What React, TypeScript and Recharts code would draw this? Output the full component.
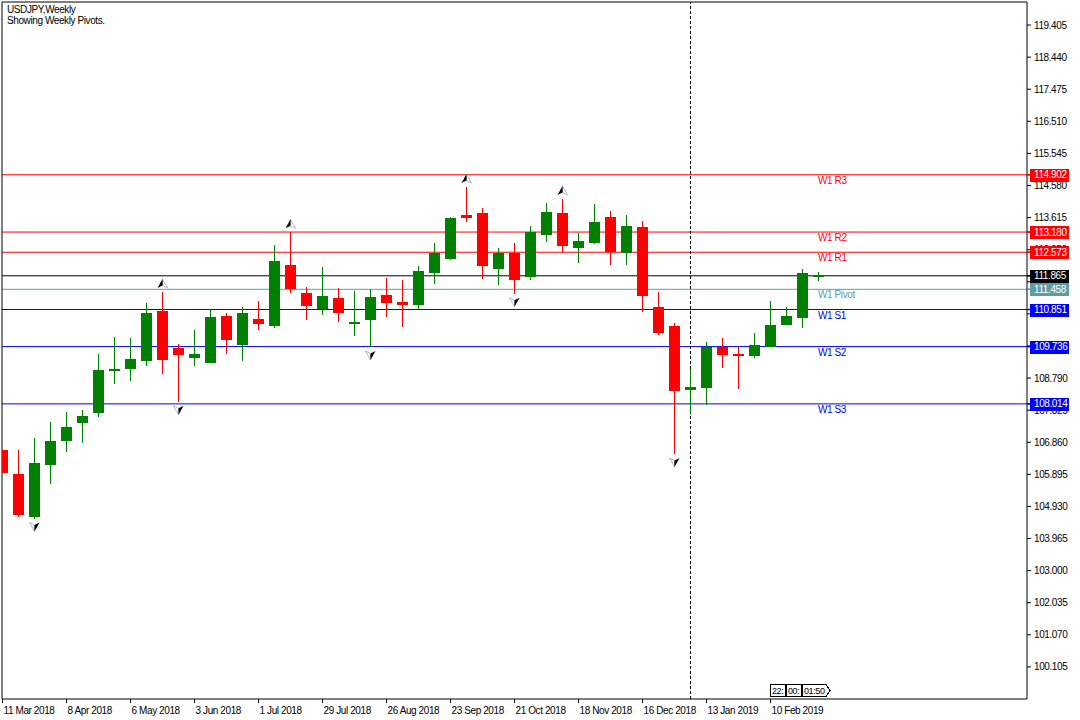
import React from "react";
import { ComposedChart, Bar, Scatter, XAxis, YAxis, ReferenceLine } from "recharts";

// USDJPY weekly candles, week of 11 Mar 2018 .. week of 3 Mar 2019
const opens = [
  106.627, 105.905, 104.622, 106.185, 106.907, 107.448, 107.748, 109.011, 109.071, 109.312,
  110.815, 109.703, 109.402, 109.252, 110.656, 109.793, 110.566, 110.364, 112.189, 111.347,
  110.875, 111.197, 110.406, 110.545, 111.287, 111.077, 110.987, 111.949, 112.37, 113.692,
  113.753, 112.069, 112.541, 111.828, 113.1, 113.753, 112.7, 112.851, 113.632, 112.541,
  113.332, 110.926, 110.355, 108.44, 108.5, 109.715, 109.522, 109.462, 109.733, 110.394,
  110.605, 111.84,
];
const highs = [
  106.657, 106.627, 106.988, 107.469, 107.769, 107.83, 109.513, 110.033, 109.994, 111.056,
  111.377, 109.805, 110.235, 110.857, 110.746, 110.926, 111.107, 112.79, 113.172, 111.528,
  112.129, 111.498, 111.416, 111.468, 111.798, 111.738, 112.159, 112.851, 113.641, 114.534,
  113.903, 112.7, 112.851, 113.362, 114.053, 114.174, 113.16, 114.023, 113.813, 113.692,
  113.512, 111.377, 110.445, 109.071, 109.874, 110.003, 109.733, 110.154, 111.116, 110.935,
  112.069, 111.979,
];
const lows = [
  105.935, 104.603, 104.567, 105.614, 106.576, 106.846, 107.628, 108.611, 108.71, 109.152,
  108.921, 108.079, 109.152, 109.228, 109.522, 109.312, 110.244, 110.304, 111.356, 110.545,
  110.695, 110.484, 110.064, 109.724, 110.635, 110.334, 110.836, 111.618, 112.339, 113.491,
  111.777, 111.588, 111.326, 111.747, 112.89, 112.589, 112.258, 112.829, 112.198, 112.198,
  110.785, 110.094, 106.507, 107.73, 107.971, 109.101, 108.47, 109.402, 109.709, 110.385,
  110.304, 111.717,
];
const closes = [
  105.944, 104.682, 106.245, 106.898, 107.318, 107.649, 109.032, 109.071, 109.363, 110.746,
  109.342, 109.492, 109.513, 110.626, 109.943, 110.746, 110.424, 112.309, 111.453, 110.965,
  111.257, 110.755, 110.475, 111.227, 111.056, 110.996, 112.009, 112.541, 113.602, 113.611,
  112.159, 112.541, 111.738, 113.172, 113.783, 112.76, 112.92, 113.482, 112.58, 113.362,
  111.257, 110.154, 108.41, 108.512, 109.715, 109.492, 109.462, 109.784, 110.385, 110.656,
  111.949, 111.865,
];

const timeTickBars = [0, 4, 8, 12, 16, 20, 24, 28, 32, 36, 40, 44, 48];
const timeTickLabels = [
  "11 Mar 2018", "8 Apr 2018", "6 May 2018", "3 Jun 2018", "1 Jul 2018", "29 Jul 2018",
  "26 Aug 2018", "23 Sep 2018", "21 Oct 2018", "18 Nov 2018", "16 Dec 2018", "13 Jan 2019",
  "10 Feb 2019",
];
const priceTicks = [
  100.105, 101.07, 102.035, 103.0, 103.965, 104.93, 105.895, 106.86, 107.825, 108.79,
  109.755, 110.72, 111.685, 112.65, 113.615, 114.58, 115.545, 116.51, 117.475, 118.44, 119.405,
];

const pivotNames = ["W1 R3", "W1 R2", "W1 R1", "W1 Pivot", "W1 S1", "W1 S2", "W1 S3"];
const pivotValues = [114.902, 113.18, 112.573, 111.458, 110.851, 109.736, 108.014];
const bidPrice = 111.865;
const upFractalBars = [10, 18, 29, 35];
const downFractalBars = [2, 11, 23, 32, 42];
const yearSeparatorBar = 43;
const countdownParts = ["22:", "00:", "01:50"];

const X_DOMAIN: [number, number] = [-0.03125, 64.03125];
const Y_DOMAIN: [number, number] = [99.14, 120.097];

const GREEN = "#008000";
const RED = "#ff0000";
const FONT = '"Liberation Sans", Arial, sans-serif';
const TXT = { fontFamily: FONT, fontSize: 10, letterSpacing: -0.4 };

function levelColor(name: string) {
  if (name.includes("Pivot")) return "#5f9ea0";
  if (name.includes("R")) return "#ff0000";
  if (name.includes("S")) return "#0000ff";
  return "#000000";
}

// price -> level name for the coloured tags on the price scale
function tagName(v: number) {
  if (Math.abs(v - bidPrice) < 1e-9) return "bid";
  const i = pivotValues.findIndex((p) => Math.abs(p - v) < 1e-9);
  return i >= 0 ? pivotNames[i] : null;
}

function Candle(props: any) {
  const { x, y, width, height, payload } = props;
  if (payload == null || x == null || y == null) return null;
  const { open, close, high, low } = payload;
  const top = Math.min(y, y + height);
  const span = Math.abs(height);
  const ppu = high > low ? span / (high - low) : 0;
  const py = (v: number) => top + (high - v) * ppu;
  const cx = Math.floor(x + width / 2) + 0.5;
  const color = close >= open ? GREEN : RED;
  const bTop = Math.round(py(Math.max(open, close)));
  const bBot = Math.max(bTop + 1, Math.round(py(Math.min(open, close))));
  // first bar is cut by the chart frame
  const left = Math.max(cx - 5.5, 2.5);
  return (
    <g>
      <line x1={cx} x2={cx} y1={Math.round(top)} y2={Math.round(top + span)} stroke={color} strokeWidth={1} />
      <rect x={left} y={bTop} width={cx + 5.5 - left} height={bBot - bTop} fill={color} />
    </g>
  );
}

function Fractal(props: any) {
  const { cx, cy, payload } = props;
  if (cx == null || cy == null) return null;
  const up = payload.dir === "up";
  const s = up ? 1 : -1;
  const c = cy - 8.5 * s;
  const tip = c - 4.5 * s;
  const foot = c + 4.5 * s;
  const notch = c + 2 * s;
  const left = `M${cx},${tip} L${cx - 5},${foot} L${cx},${notch} Z`;
  const right = `M${cx},${tip} L${cx + 5},${foot} L${cx},${notch} Z`;
  return (
    <g>
      <path d={up ? right : left} fill="#fff" stroke="#9aa6b8" strokeWidth={0.8} />
      <path d={up ? left : right} fill="#000" />
    </g>
  );
}

function TimeTick(props: any) {
  const { x, y, payload } = props;
  const i = timeTickBars.indexOf(payload.value);
  return (
    <text x={x + 1} y={y + 8.5} fill="#000" {...TXT}>
      {timeTickLabels[i]}
    </text>
  );
}

function PriceTick(props: any) {
  const { x, y, payload } = props;
  const v = Number(payload.value);
  const name = tagName(v);
  if (name) {
    const color = levelColor(name);
    const top = Math.round(y) - 6;
    return (
      <g>
        <line x1={x - 7} x2={x - 3} y1={y} y2={y} stroke={color} strokeWidth={1.5} />
        <rect x={x - 4} y={top} width={39} height={13} fill={color} />
        <text x={x} y={y} dy="0.35em" fill="#fff" {...TXT}>
          {v.toFixed(3)}
        </text>
      </g>
    );
  }
  return (
    <text x={x} y={y} dy="0.35em" fill="#000" {...TXT}>
      {v.toFixed(3)}
    </text>
  );
}

function LevelNote(props: any) {
  const { cx, cy, payload } = props;
  if (cx == null || cy == null) return null;
  return (
    <text x={cx - 0.5} y={cy + 9} fill={levelColor(payload.name)} {...TXT}>
      {payload.name}
    </text>
  );
}

export default function App() {
  const candles = opens.map((open, k) => ({
    k,
    open,
    high: highs[k],
    low: lows[k],
    close: closes[k],
    range: [lows[k], highs[k]],
  }));
  const fractals = [
    ...upFractalBars.map((k) => ({ k, price: highs[k], dir: "up" })),
    ...downFractalBars.map((k) => ({ k, price: lows[k], dir: "down" })),
  ];
  const lastBar = opens.length - 1;
  const levelNotes = pivotNames.map((name, i) => ({ k: lastBar, price: pivotValues[i], name }));
  // plain ticks first, tags last so the tags cover the labels beneath them
  const axisTicks = [...priceTicks, ...pivotValues, bidPrice];

  return (
    <div style={{ position: "absolute", left: 0, top: 0, width: 1080, height: 720, background: "#fff" }}>
      <ComposedChart width={1080} height={720} data={candles} margin={{ top: 2, right: 0, bottom: 0, left: 2 }}>
        {pivotNames.map((name, i) => (
          <ReferenceLine key={name} y={pivotValues[i]} stroke={levelColor(name)} strokeWidth={1} zIndex={100} />
        ))}
        <ReferenceLine y={bidPrice} stroke="#000" zIndex={100} />
        <ReferenceLine x={yearSeparatorBar} stroke="#000" strokeDasharray="3 2" zIndex={100} />
        <ReferenceLine y={Y_DOMAIN[1]} stroke="#000" zIndex={100} />
        <ReferenceLine x={X_DOMAIN[0]} stroke="#000" zIndex={100} />
        <Bar dataKey="range" barSize={11} shape={(p: any) => <Candle {...p} />} isAnimationActive={false} />
        <Scatter data={fractals} dataKey="price" shape={(p: any) => <Fractal {...p} />} isAnimationActive={false} />
        <Scatter data={levelNotes} dataKey="price" shape={(p: any) => <LevelNote {...p} />} isAnimationActive={false} />
        <XAxis
          dataKey="k"
          type="number"
          domain={X_DOMAIN}
          ticks={timeTickBars}
          interval={0}
          height={21}
          tickSize={4}
          tickMargin={2}
          axisLine={{ stroke: "#000" }}
          tickLine={{ stroke: "#000" }}
          tick={(p: any) => <TimeTick {...p} />}
        />
        <YAxis
          orientation="right"
          type="number"
          domain={Y_DOMAIN}
          ticks={axisTicks}
          interval={0}
          width={53}
          tickSize={4}
          tickMargin={3}
          axisLine={{ stroke: "#000" }}
          tickLine={{ stroke: "#000" }}
          tick={(p: any) => <PriceTick {...p} />}
        />
      </ComposedChart>
      <svg width={1080} height={720} style={{ position: "absolute", left: 0, top: 0, pointerEvents: "none" }}>
        <text x={7} y={12.8} fill="#000" {...TXT}>USDJPY,Weekly</text>
        <text x={7} y={23.5} fill="#000" {...TXT}>Showing Weekly Pivots.</text>
        {/* bar countdown */}
        <g fill="#fff" stroke="#000" strokeWidth={1} shapeRendering="crispEdges">
          <rect x={770.5} y={684.5} width={15} height={12} />
          <rect x={786.5} y={684.5} width={15} height={12} />
          <path d="M802.5,684.5 H826 L830,690.5 L826,696.5 H802.5 Z" />
        </g>
        <g fill="#000" {...TXT} fontSize={9}>
          <text x={772} y={694}>{countdownParts[0]}</text>
          <text x={788} y={694}>{countdownParts[1]}</text>
          <text x={804} y={694}>{countdownParts[2]}</text>
        </g>
      </svg>
    </div>
  );
}
